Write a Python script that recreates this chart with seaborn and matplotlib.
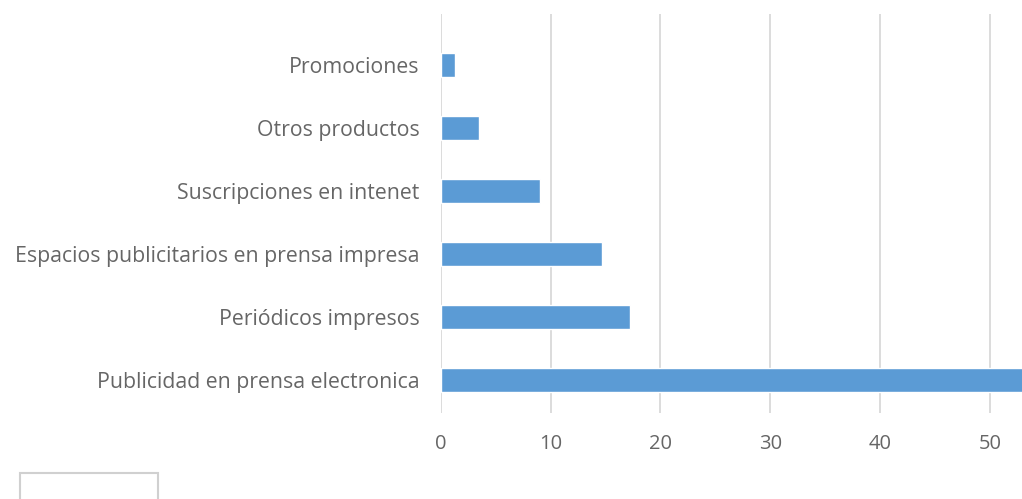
import matplotlib
matplotlib.use("Agg")
import matplotlib.pyplot as plt
import matplotlib.patches as mpatches
import seaborn as sns
import pandas as pd

categories = [
    "Promociones",
    "Otros productos",
    "Suscripciones en intenet",
    "Espacios publicitarios en prensa impresa",
    "Periódicos impresos",
    "Publicidad en prensa electronica",
]
values = [1.3, 3.5, 9.0, 14.7, 17.2, 54.0]
x_ticks = [0, 10, 20, 30, 40, 50]

df = pd.DataFrame({"cat": categories, "val": values})

sns.set_theme(style="white")
plt.rcParams["font.family"] = ["Open Sans", "DejaVu Sans"]

fig = plt.figure(figsize=(10.22, 4.99), dpi=100)
ax = fig.add_axes([440.7 / 1022, 1 - 413 / 499, 1 - 440.7 / 1022, (413 - 14) / 499])

sns.barplot(data=df, x="val", y="cat", order=categories, color="#5B9BD5",
            saturation=1, width=0.38, ax=ax, zorder=3)

ax.set_xlim(0, 52.9)
ax.set_ylim(5.52, -0.81)
ax.set_xticks(x_ticks)
ax.set_xlabel("")
ax.set_ylabel("")
ax.grid(axis="x", color="#D9D9D9", linewidth=1.3, zorder=0)
ax.set_axisbelow(True)
for s in ax.spines.values():
    s.set_visible(False)
ax.tick_params(axis="y", length=0, pad=15, labelsize=15.3, labelcolor="#666666")
ax.tick_params(axis="x", length=0, pad=15, labelsize=14.5, labelcolor="#666666")

# cropped legend frame at bottom-left
rect = mpatches.Rectangle((20 / 1022, -0.1), (158 - 20) / 1022, 0.1 + (1 - 473 / 499),
                          transform=fig.transFigure, fill=False,
                          edgecolor="#D0D0D0", linewidth=1.5, clip_on=False)
fig.patches.append(rect)

fig.savefig("out.png", dpi=100)
